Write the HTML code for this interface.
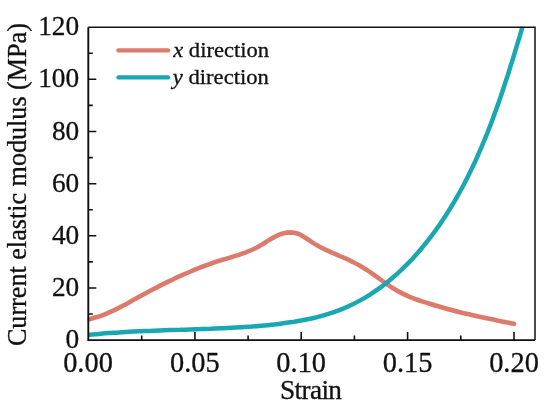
<!DOCTYPE html><html><head><meta charset="utf-8"><title>Chart</title>
<style>html,body{margin:0;padding:0;background:#fff}svg{display:block}text{font-family:"Liberation Serif",serif;fill:#111;stroke:#111;stroke-width:0.3px}</style></head><body>
<svg width="550" height="406" viewBox="0 0 550 406">
<rect width="550" height="406" fill="#fff"/>
<clipPath id="pc"><rect x="87.5" y="26.5" width="447.5" height="313.6"/></clipPath><g clip-path="url(#pc)">
<path d="M88.5 319.3 C89.8 318.9 93.7 318.1 96.2 317.3 C98.7 316.6 101.2 315.7 103.6 314.8 C106.1 313.8 108.5 312.8 110.9 311.7 C113.3 310.7 115.6 309.5 118.0 308.3 C120.3 307.2 122.7 305.9 125.0 304.7 C127.3 303.4 129.6 302.1 131.9 300.8 C134.2 299.6 136.5 298.3 138.8 297.0 C141.1 295.7 143.4 294.4 145.7 293.2 C148.1 291.9 150.4 290.7 152.7 289.5 C155.0 288.3 157.4 287.1 159.7 285.9 C162.0 284.7 164.4 283.5 166.7 282.4 C169.1 281.2 171.5 280.1 173.8 279.0 C176.2 277.8 178.6 276.7 181.0 275.7 C183.4 274.6 185.8 273.5 188.2 272.5 C190.6 271.4 193.1 270.4 195.5 269.4 C198.0 268.4 200.4 267.5 202.9 266.5 C205.3 265.6 207.8 264.7 210.3 263.8 C212.8 262.9 215.2 262.1 217.7 261.3 C220.2 260.5 222.8 259.7 225.3 259.0 C227.8 258.2 230.3 257.5 232.8 256.7 C235.3 255.9 237.8 255.2 240.3 254.3 C242.7 253.5 245.2 252.6 247.6 251.7 C250.1 250.7 252.5 249.7 254.9 248.5 C257.2 247.3 259.6 246.0 261.9 244.6 C264.2 243.2 266.4 241.7 268.7 240.3 C271.0 238.9 273.3 237.4 275.7 236.3 C278.0 235.1 280.4 234.1 282.9 233.4 C285.4 232.8 288.0 232.4 290.5 232.4 C293.0 232.5 295.6 232.9 298.0 233.7 C300.4 234.5 302.6 236.0 304.8 237.4 C307.1 238.7 309.2 240.5 311.4 241.9 C313.7 243.4 316.0 244.7 318.3 246.0 C320.6 247.3 322.9 248.4 325.3 249.6 C327.7 250.7 330.1 251.8 332.5 252.9 C334.9 253.9 337.3 254.9 339.7 256.0 C342.1 257.0 344.5 258.0 346.9 259.1 C349.2 260.2 351.6 261.3 353.9 262.5 C356.3 263.6 358.6 264.9 360.8 266.2 C363.1 267.5 365.3 268.9 367.5 270.4 C369.7 271.8 371.8 273.4 374.0 274.9 C376.1 276.4 378.3 278.0 380.4 279.5 C382.6 281.1 384.7 282.6 386.9 284.1 C389.1 285.6 391.3 287.1 393.5 288.5 C395.7 289.9 398.0 291.2 400.3 292.4 C402.6 293.6 405.0 294.8 407.4 295.8 C409.8 296.9 412.2 297.8 414.7 298.8 C417.1 299.7 419.6 300.5 422.1 301.4 C424.6 302.2 427.2 303.0 429.7 303.7 C432.2 304.5 434.7 305.3 437.2 306.0 C439.8 306.7 442.3 307.5 444.8 308.2 C447.3 308.9 449.9 309.6 452.4 310.2 C454.9 310.9 457.5 311.6 460.0 312.2 C462.6 312.8 465.1 313.5 467.7 314.1 C470.3 314.7 472.8 315.2 475.4 315.8 C477.9 316.4 480.5 316.9 483.1 317.5 C485.7 318.1 488.2 318.6 490.8 319.1 C493.4 319.7 496.0 320.2 498.5 320.7 C501.1 321.2 503.7 321.7 506.3 322.3 C508.8 322.8 512.7 323.5 514.0 323.8" fill="none" stroke="#dc7b6c" stroke-width="4.6" stroke-linecap="round" stroke-linejoin="round"/>
<path d="M88.5 334.7 C90.2 334.6 95.3 334.1 98.7 333.9 C102.1 333.6 105.5 333.3 108.9 333.1 C112.2 332.9 115.6 332.6 119.0 332.4 C122.4 332.2 125.8 332.0 129.3 331.8 C132.7 331.7 136.1 331.5 139.5 331.3 C142.9 331.2 146.3 331.0 149.7 330.9 C153.1 330.7 156.5 330.6 159.9 330.5 C163.3 330.4 166.7 330.2 170.1 330.1 C173.5 330.0 176.9 329.9 180.3 329.8 C183.7 329.6 187.1 329.5 190.5 329.4 C193.9 329.3 197.3 329.2 200.7 329.1 C204.1 328.9 207.5 328.8 210.9 328.7 C214.3 328.5 217.7 328.4 221.0 328.3 C224.4 328.1 227.8 328.0 231.2 327.8 C234.6 327.6 237.9 327.4 241.3 327.2 C244.7 327.0 248.1 326.8 251.4 326.6 C254.8 326.3 258.2 326.0 261.6 325.7 C265.0 325.4 268.4 325.1 271.8 324.7 C275.2 324.4 278.6 324.0 282.0 323.5 C285.4 323.1 288.8 322.6 292.2 322.1 C295.6 321.5 299.1 320.9 302.4 320.3 C305.8 319.6 309.2 318.9 312.6 318.2 C315.9 317.4 319.3 316.5 322.6 315.6 C325.9 314.7 329.2 313.7 332.4 312.6 C335.6 311.5 338.8 310.4 342.0 309.1 C345.1 307.8 348.2 306.5 351.2 305.0 C354.3 303.6 357.3 302.0 360.2 300.4 C363.1 298.8 366.0 297.1 368.9 295.3 C371.7 293.5 374.5 291.7 377.3 289.7 C380.0 287.8 382.7 285.8 385.4 283.7 C388.0 281.7 390.6 279.5 393.2 277.3 C395.8 275.1 398.3 272.8 400.7 270.5 C403.2 268.2 405.6 265.8 408.0 263.4 C410.4 261.0 412.7 258.5 415.0 255.9 C417.3 253.4 419.5 250.8 421.7 248.2 C423.9 245.6 426.1 242.9 428.2 240.2 C430.3 237.5 432.4 234.8 434.4 232.0 C436.4 229.2 438.4 226.4 440.4 223.6 C442.3 220.7 444.2 217.9 446.1 215.0 C447.9 212.1 449.7 209.2 451.5 206.3 C453.3 203.4 455.0 200.4 456.7 197.5 C458.4 194.5 460.0 191.5 461.7 188.5 C463.3 185.6 464.9 182.5 466.4 179.5 C467.9 176.5 469.5 173.5 470.9 170.4 C472.4 167.3 473.9 164.3 475.3 161.2 C476.7 158.1 478.1 155.0 479.4 151.9 C480.8 148.8 482.1 145.7 483.4 142.5 C484.7 139.4 486.0 136.2 487.3 133.1 C488.5 129.9 489.8 126.8 491.0 123.6 C492.2 120.4 493.4 117.2 494.5 114.0 C495.7 110.8 496.8 107.6 498.0 104.4 C499.1 101.2 500.2 98.0 501.3 94.8 C502.4 91.5 503.5 88.3 504.5 85.1 C505.6 81.8 506.6 78.6 507.7 75.4 C508.7 72.1 509.7 68.9 510.7 65.6 C511.8 62.4 512.8 59.1 513.8 55.8 C514.8 52.6 515.8 49.3 516.7 46.1 C517.7 42.8 518.7 39.5 519.7 36.3 C520.6 33.0 522.1 28.1 522.6 26.5" fill="none" stroke="#19a8b2" stroke-width="4.5" stroke-linecap="butt" stroke-linejoin="round"/>
</g>
<g stroke="#111" fill="none">
<path d="M88.3 27.2V340.1H535.0" stroke-width="1.9"/>
<path d="M88.3 27.2H535.0V340.1" stroke-width="1.5"/>
<path d="M141.7 340.1v-4.5M194.9 340.1v-8.0M248.1 340.1v-4.5M301.2 340.1v-8.0M354.4 340.1v-4.5M407.6 340.1v-8.0M460.8 340.1v-4.5M514.0 340.1v-8.0M88.3 314.0h4.5M88.3 288.0h8.0M88.3 261.9h4.5M88.3 235.8h8.0M88.3 209.7h4.5M88.3 183.7h8.0M88.3 157.6h4.5M88.3 131.5h8.0M88.3 105.4h4.5M88.3 79.3h8.0M88.3 53.3h4.5" stroke-width="1.6"/>
</g>
<text x="79.2" y="348.1" font-size="28" text-anchor="end" textLength="13.7" lengthAdjust="spacingAndGlyphs">0</text>
<text x="79.2" y="296.0" font-size="28" text-anchor="end" textLength="27.3" lengthAdjust="spacingAndGlyphs">20</text>
<text x="79.2" y="243.8" font-size="28" text-anchor="end" textLength="27.3" lengthAdjust="spacingAndGlyphs">40</text>
<text x="79.2" y="191.7" font-size="28" text-anchor="end" textLength="27.3" lengthAdjust="spacingAndGlyphs">60</text>
<text x="79.2" y="139.5" font-size="28" text-anchor="end" textLength="27.3" lengthAdjust="spacingAndGlyphs">80</text>
<text x="79.2" y="87.3" font-size="28" text-anchor="end" textLength="41.0" lengthAdjust="spacingAndGlyphs">100</text>
<text x="79.2" y="35.2" font-size="28" text-anchor="end" textLength="41.0" lengthAdjust="spacingAndGlyphs">120</text>
<text x="88.0" y="371.5" font-size="28.4" text-anchor="middle">0.00</text>
<text x="194.9" y="371.5" font-size="28.4" text-anchor="middle">0.05</text>
<text x="301.2" y="371.5" font-size="28.4" text-anchor="middle">0.10</text>
<text x="407.6" y="371.5" font-size="28.4" text-anchor="middle">0.15</text>
<text x="514.0" y="371.5" font-size="28.4" text-anchor="middle">0.20</text>
<text x="311.0" y="399" font-size="27.3" text-anchor="middle" textLength="62" lengthAdjust="spacing">Strain</text>
<text transform="translate(26.4 184.6) rotate(-90) scale(1 1.03)" font-size="26.3" text-anchor="middle" textLength="323" lengthAdjust="spacingAndGlyphs">Current elastic modulus (MPa)</text>
<path d="M118.5 50.4H168" stroke="#dc7b6c" stroke-width="4.4" stroke-linecap="round"/>
<path d="M118.5 77.4H168" stroke="#19a8b2" stroke-width="4.4" stroke-linecap="round"/>
<text x="173.2" y="57" font-size="21.6" textLength="95.9" lengthAdjust="spacingAndGlyphs"><tspan font-style="italic">x</tspan> direction</text>
<text x="172.8" y="84.3" font-size="21.6" textLength="96.1" lengthAdjust="spacingAndGlyphs"><tspan font-style="italic">y</tspan> direction</text>
</svg></body></html>
